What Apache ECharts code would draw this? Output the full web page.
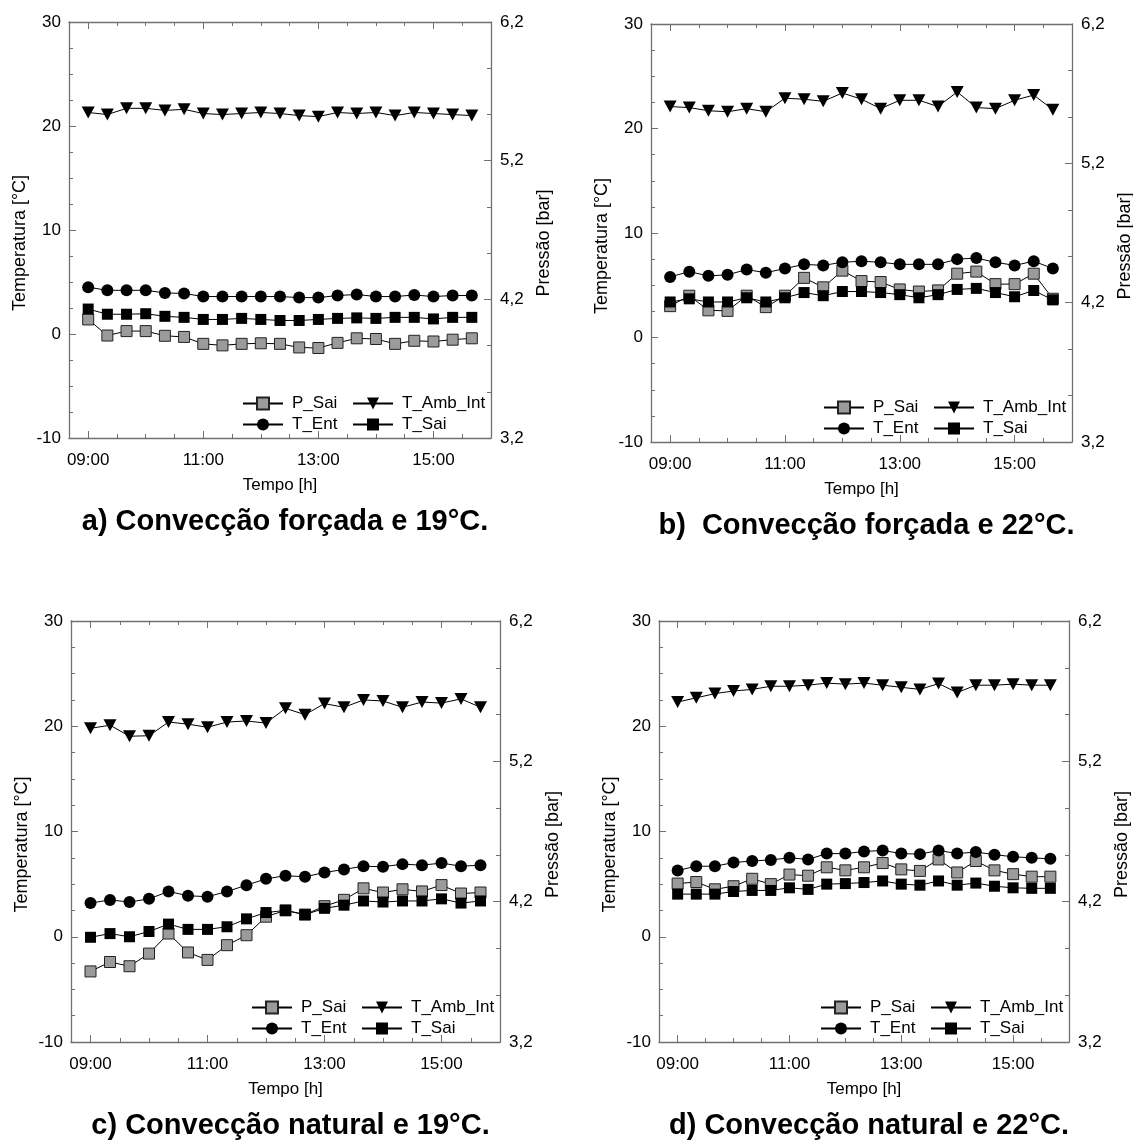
<!DOCTYPE html>
<html><head><meta charset="utf-8">
<script src="https://cdn.jsdelivr.net/npm/echarts@6/dist/echarts.min.js"></script>
<style>html,body{margin:0;padding:0;background:#fff}#c{width:1133px;height:1140px}</style>
</head><body><div id="c"></div>
<script>
// ---------- DATA ----------
// time in minutes after midnight (09:00 ... 15:40, every 20 min)
const times = [540,560,580,600,620,640,660,680,700,720,740,760,780,800,820,840,860,880,900,920,940];
const xMajorTicks = [540,660,780,900];            // 09:00, 11:00, 13:00, 15:00
const xMinorTicks = [570,600,630,690,720,750,810,840,870,930];
const pMajorTicks = [3.2,4.2,5.2,6.2];
const pMinorTicks = [3.5333,3.8667,4.5333,4.8667,5.5333,5.8667];
const seriesNames = ['P_Sai','T_Ent','T_Sai','T_Amb_Int'];
const titles = ['a) Convecção forçada e 19°C.','b)  Convecção forçada e 22°C.','c) Convecção natural e 19°C.','d) Convecção natural e 22°C.'];

// panel a
const a_P_Sai = [4.055,3.939,3.971,3.971,3.937,3.929,3.879,3.868,3.879,3.883,3.879,3.853,3.849,3.886,3.919,3.914,3.879,3.901,3.896,3.909,3.919];
const a_T_Ent = [4.5,4.2,4.2,4.2,3.95,3.9,3.6,3.6,3.6,3.6,3.6,3.5,3.5,3.7,3.8,3.6,3.6,3.75,3.6,3.7,3.7];
const a_T_Sai = [2.4,1.9,1.9,1.95,1.7,1.6,1.4,1.4,1.5,1.4,1.3,1.3,1.4,1.5,1.55,1.5,1.6,1.6,1.45,1.6,1.6];
const a_T_Amb_Int = [21.3,21.1,21.7,21.7,21.5,21.6,21.2,21.1,21.2,21.3,21.2,21.0,20.9,21.3,21.2,21.3,21.0,21.3,21.2,21.1,21.0];
// panel b
const b_P_Sai = [4.175,4.25,4.145,4.141,4.25,4.168,4.25,4.378,4.31,4.43,4.355,4.348,4.295,4.28,4.288,4.408,4.423,4.333,4.333,4.408,4.228];
const b_T_Ent = [5.8,6.3,5.9,6.0,6.5,6.2,6.6,7.0,6.9,7.2,7.3,7.2,7.0,7.0,7.0,7.5,7.6,7.2,6.9,7.3,6.6];
const b_T_Sai = [3.4,3.7,3.4,3.4,3.8,3.4,3.8,4.3,4.0,4.4,4.4,4.3,4.1,3.8,4.1,4.6,4.7,4.3,3.9,4.5,3.6];
const b_T_Amb_Int = [22.1,22.0,21.7,21.6,21.9,21.6,22.9,22.8,22.6,23.4,22.8,21.9,22.7,22.7,22.1,23.5,22.0,21.9,22.7,23.2,21.8];
// panel c
const c_P_Sai = [3.703,3.77,3.74,3.83,3.973,3.838,3.785,3.89,3.961,4.093,4.138,4.108,4.168,4.213,4.295,4.265,4.288,4.273,4.318,4.258,4.265];
const c_T_Ent = [3.2,3.5,3.3,3.6,4.3,3.9,3.8,4.3,4.9,5.5,5.8,5.7,6.1,6.4,6.7,6.65,6.9,6.8,7.0,6.7,6.8];
const c_T_Sai = [-0.05,0.3,0.0,0.5,1.2,0.7,0.7,0.95,1.7,2.3,2.5,2.1,2.7,3.0,3.4,3.3,3.4,3.4,3.6,3.2,3.4];
const c_T_Amb_Int = [19.8,20.1,19.05,19.1,20.4,20.2,19.9,20.4,20.5,20.3,21.7,21.1,22.15,21.8,22.5,22.4,21.8,22.3,22.2,22.6,21.8];
// panel d
const d_P_Sai = [4.329,4.34,4.288,4.31,4.363,4.325,4.393,4.385,4.445,4.423,4.445,4.475,4.43,4.419,4.501,4.408,4.49,4.423,4.396,4.378,4.378];
const d_T_Ent = [6.3,6.7,6.7,7.05,7.2,7.3,7.5,7.35,7.9,7.9,8.1,8.2,7.9,7.85,8.2,7.9,8.05,7.8,7.6,7.5,7.4];
const d_T_Sai = [4.05,4.05,4.05,4.3,4.4,4.4,4.65,4.5,5.0,5.05,5.15,5.3,5.0,4.9,5.3,4.9,5.1,4.8,4.65,4.6,4.6];
const d_T_Amb_Int = [22.3,22.7,23.1,23.35,23.5,23.8,23.8,23.9,24.1,24.0,24.1,23.9,23.7,23.5,24.05,23.2,23.9,23.9,24.0,23.9,23.9];

const panelData = [
  [a_P_Sai,a_T_Ent,a_T_Sai,a_T_Amb_Int],
  [b_P_Sai,b_T_Ent,b_T_Sai,b_T_Amb_Int],
  [c_P_Sai,c_T_Ent,c_T_Sai,c_T_Amb_Int],
  [d_P_Sai,d_T_Ent,d_T_Sai,d_T_Amb_Int]
];

// ---------- LAYOUT ----------
const layout = [
  {left:69, top:22,  width:422, height:416},
  {left:651,top:24,  width:421, height:418},
  {left:71, top:621, width:429, height:421},
  {left:659,top:621, width:410, height:421}
];
const FONT = '"Liberation Sans", Arial, sans-serif';
const AXC = '#707070';
const fmtTime = v => { const h = Math.floor(v/60), m = Math.round(v%60); return String(h).padStart(2,'0')+':'+String(m).padStart(2,'0'); };

const option = {animation:false, backgroundColor:'#fff', textStyle:{fontFamily:FONT},
  grid:[], xAxis:[], yAxis:[], series:[], legend:[], title:[]};

const styles = {
  P_Sai:{symbol:'rect', symbolSize:11, itemStyle:{color:'#9b9b9b', borderColor:'#222', borderWidth:1}},
  T_Ent:{symbol:'circle', symbolSize:12, itemStyle:{color:'#000'}},
  T_Sai:{symbol:'rect', symbolSize:11, itemStyle:{color:'#000'}},
  T_Amb_Int:{symbol:'triangle', symbolRotate:180, symbolSize:[13,12], itemStyle:{color:'#000'}}
};

layout.forEach((g,p) => {
  option.grid.push(Object.assign({containLabel:false, outerBoundsMode:'none'}, g));
  const xBase = {type:'value', gridIndex:p, min:520, max:960, splitLine:{show:false}};
  // bottom major
  option.xAxis.push(Object.assign({}, xBase, {position:'bottom',
    axisLine:{show:true, onZero:false, lineStyle:{color:AXC, width:1.3}},
    axisTick:{show:true, inside:true, length:7, customValues:xMajorTicks, lineStyle:{color:AXC}},
    axisLabel:{show:true, customValues:xMajorTicks, formatter:fmtTime, color:'#000', fontSize:17, margin:14, fontFamily:FONT},
    name:'Tempo [h]', nameLocation:'middle', nameGap:39, nameTextStyle:{color:'#000', fontSize:17, fontFamily:FONT}}));
  // bottom minor
  option.xAxis.push(Object.assign({}, xBase, {position:'bottom', axisLine:{show:false, onZero:false},
    axisTick:{show:true, inside:true, length:4, customValues:xMinorTicks, lineStyle:{color:AXC}}, axisLabel:{show:false}}));
  // top major
  option.xAxis.push(Object.assign({}, xBase, {position:'top',
    axisLine:{show:true, onZero:false, lineStyle:{color:AXC, width:1.3}},
    axisTick:{show:true, inside:true, length:7, customValues:xMajorTicks, lineStyle:{color:AXC}}, axisLabel:{show:false}}));
  // top minor
  option.xAxis.push(Object.assign({}, xBase, {position:'top', axisLine:{show:false, onZero:false},
    axisTick:{show:true, inside:true, length:4, customValues:xMinorTicks, lineStyle:{color:AXC}}, axisLabel:{show:false}}));

  // left temperature
  option.yAxis.push({type:'value', gridIndex:p, position:'left', min:-10, max:30, interval:10,
    splitLine:{show:false},
    axisLine:{show:true, onZero:false, lineStyle:{color:AXC, width:1.3}},
    axisTick:{show:true, inside:true, length:7, lineStyle:{color:AXC}},
    minorTick:{show:true, splitNumber:4, length:4, lineStyle:{color:AXC}},
    axisLabel:{color:'#000', fontSize:17, margin:8, fontFamily:FONT},
    name:'Temperatura [°C]', nameLocation:'middle', nameGap:40,
    nameTextStyle:{color:'#000', fontSize:18, fontFamily:FONT, padding:[0,26,0,0]}});
  // right pressure
  option.yAxis.push({type:'value', gridIndex:p, position:'right', min:3.2, max:6.2,
    splitLine:{show:false},
    axisLine:{show:true, onZero:false, lineStyle:{color:AXC, width:1.3}},
    axisTick:{show:true, inside:true, length:7, customValues:pMajorTicks, lineStyle:{color:AXC}},
    axisLabel:{show:true, customValues:pMajorTicks, formatter:v => v.toFixed(1).replace('.',','), color:'#000', fontSize:17, margin:9, fontFamily:FONT},
    name:'Pressão [bar]', nameLocation:'middle', nameGap:44,
    nameTextStyle:{color:'#000', fontSize:18, fontFamily:FONT, padding:[0,26,0,0]}});
  // right pressure minor ticks
  option.yAxis.push({type:'value', gridIndex:p, position:'right', min:3.2, max:6.2,
    splitLine:{show:false}, axisLine:{show:false, onZero:false},
    axisTick:{show:true, inside:true, length:4, customValues:pMinorTicks, lineStyle:{color:AXC}},
    axisLabel:{show:false}});

  seriesNames.forEach((nm,k) => {
    const vals = panelData[p][k];
    option.series.push(Object.assign({
      type:'line', name:nm, xAxisIndex:4*p, yAxisIndex: nm==='P_Sai' ? 3*p+1 : 3*p,
      data: times.map((t,i) => [t, vals[i]]),
      lineStyle:{color:'#000', width:1}, showAllSymbol:true, z:2+k
    }, styles[nm]));
  });

  const lx = g.left + g.width;
  const ly = g.top + g.height - 48;
  const legBase = {orient:'vertical', itemWidth:40, itemHeight:15, itemGap:4,
    textStyle:{fontSize:17, color:'#000', fontFamily:FONT, padding:[0,0,0,4]}, selectedMode:false};
  option.legend.push(Object.assign({}, legBase, {left:lx-254, top:ly, data:['P_Sai','T_Ent']}));
  option.legend.push(Object.assign({}, legBase, {left:lx-144, top:ly, data:['T_Amb_Int','T_Sai']}));

  option.title.push({text:titles[p], left:g.left + g.width/2, top:g.top + g.height + 64, textAlign:'center',
    textStyle:{fontSize:29, fontWeight:'bold', color:'#000', fontFamily:FONT}});
});

const chart = echarts.init(document.getElementById('c'), null, {renderer:'canvas'});
chart.setOption(option);
</script>
</body></html>
